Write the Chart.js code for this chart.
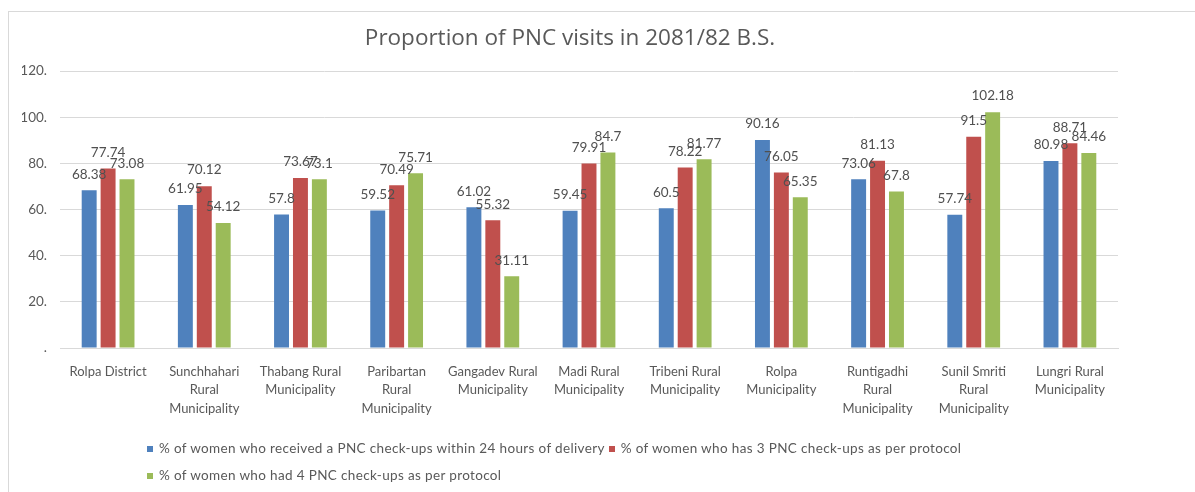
<!DOCTYPE html>
<html>
<head>
<meta charset="utf-8">
<script src="https://cdn.jsdelivr.net/npm/chart.js@4.4.0/dist/chart.umd.min.js"></script>
<style>
  html, body { margin: 0; padding: 0; background: #fff; }
  #wrap { position: relative; width: 1195px; height: 492px; overflow: hidden; }
  #frame { position: absolute; left: 8px; top: 11px; width: 1300px; height: 600px; border: 1px solid #d9d9d9; box-sizing: border-box; }
  #chart { position: absolute; left: 0; top: 0; }
  .legend { position: absolute; left: 147px; font-family: Lato, sans-serif; font-size: 13.5px; letter-spacing: 0.35px; color: #595959; white-space: nowrap; line-height: 16px; }
  .legend span.box { display: inline-block; width: 6px; height: 6px; margin-right: 6px; vertical-align: 1px; }
  .legend span.item { margin-right: 4px; }
</style>
</head>
<body>
<div id="wrap">
  <div id="frame"></div>
  <canvas id="chart" width="1195" height="492"></canvas>
  <div class="legend" id="legend1" style="top:440px"></div>
  <div class="legend" id="legend2" style="top:467px"></div>
</div>
<script>
const categories = [
    "Rolpa District",
    ["Sunchhahari", "Rural", "Municipality"],
    ["Thabang Rural", "Municipality"],
    ["Paribartan", "Rural", "Municipality"],
    ["Gangadev Rural", "Municipality"],
    ["Madi Rural", "Municipality"],
    ["Tribeni Rural", "Municipality"],
    ["Rolpa", "Municipality"],
    ["Runtigadhi", "Rural", "Municipality"],
    ["Sunil Smriti", "Rural", "Municipality"],
    ["Lungri Rural", "Municipality"]
]
const within24h = [68.38, 61.95, 57.8, 59.52, 61.02, 59.45, 60.5, 90.16, 73.06, 57.74, 80.98]
const threePnc = [77.74, 70.12, 73.67, 70.49, 55.32, 79.91, 78.22, 76.05, 81.13, 91.5, 88.71]
const fourPnc = [73.08, 54.12, 73.1, 75.71, 31.11, 84.7, 81.77, 65.35, 67.8, 102.18, 84.46]
const seriesNames = [
    "% of women who received a PNC check-ups within 24 hours of delivery",
    "% of women who has 3 PNC check-ups as per protocol",
    "% of women who had 4 PNC check-ups as per protocol"
]
const seriesColors = ["#4f81bd", "#c0504d", "#9bbb59"]

// value labels above each bar
const barLabels = {
    id: "barLabels",
    afterDatasetsDraw(chart){
        const ctx = chart.ctx
        ctx.save()
        ctx.font = "13.5px Lato, sans-serif"
        ctx.fillStyle = "#505050"
        ctx.textAlign = "center"
        ctx.textBaseline = "middle"
        chart.data.datasets.forEach((ds, i)=>{
            chart.getDatasetMeta(i).data.forEach((bar, j)=>{
                ctx.fillText(String(ds.data[j]), bar.x, bar.y - 16)
            })
        })
        ctx.restore()
    }
}

const chart = new Chart(document.getElementById("chart"), {
    type: "bar",
    data: {
        labels: categories,
        datasets: [
            { label: seriesNames[0], data: within24h, backgroundColor: seriesColors[0] },
            { label: seriesNames[1], data: threePnc, backgroundColor: seriesColors[1] },
            { label: seriesNames[2], data: fourPnc, backgroundColor: seriesColors[2] }
        ]
    },
    options: {
        responsive: false,
        animation: false,
        categoryPercentage: 0.59,
        barPercentage: 0.79,
        layout: { padding: { left: 22, right: 77, top: 0, bottom: 74 } },
        plugins: {
            legend: { display: false },
            tooltip: { enabled: false },
            title: {
                display: true,
                text: "Proportion of PNC visits in 2081/82 B.S.",
                color: "#595959",
                font: { family: "'Open Sans', sans-serif", size: 22.5, weight: "normal" },
                padding: { top: 25, bottom: 19 }
            }
        },
        scales: {
            x: {
                grid: { display: false, drawTicks: false },
                border: { display: true, color: "#d9d9d9" },
                ticks: {
                    color: "#595959",
                    font: { family: "Lato, sans-serif", size: 13, lineHeight: 1.4 },
                    padding: 15,
                    maxRotation: 0,
                    autoSkip: false
                },
                afterFit(scale){ scale.height = 70 }
            },
            y: {
                min: 0,
                max: 120,
                grid: { color: "#d9d9d9", drawTicks: false },
                border: { display: false },
                ticks: {
                    stepSize: 20,
                    color: "#595959",
                    font: { family: "Lato, sans-serif", size: 13.5 },
                    padding: 13,
                    callback: (v)=> v === 0 ? "." : v + "."
                },
                afterFit(scale){ scale.width = 38 }
            }
        }
    },
    plugins: [barLabels]
})

// legend rows laid out like the original (left aligned)
const rows = [[0, 1], [2]]
rows.forEach((r, k)=>{
    const el = document.getElementById("legend" + (k + 1))
    el.innerHTML = r.map(i =>
        '<span class="item"><span class="box" style="background:' + seriesColors[i] + '"></span>' + seriesNames[i] + '</span>'
    ).join("")
})
</script>
</body>
</html>
